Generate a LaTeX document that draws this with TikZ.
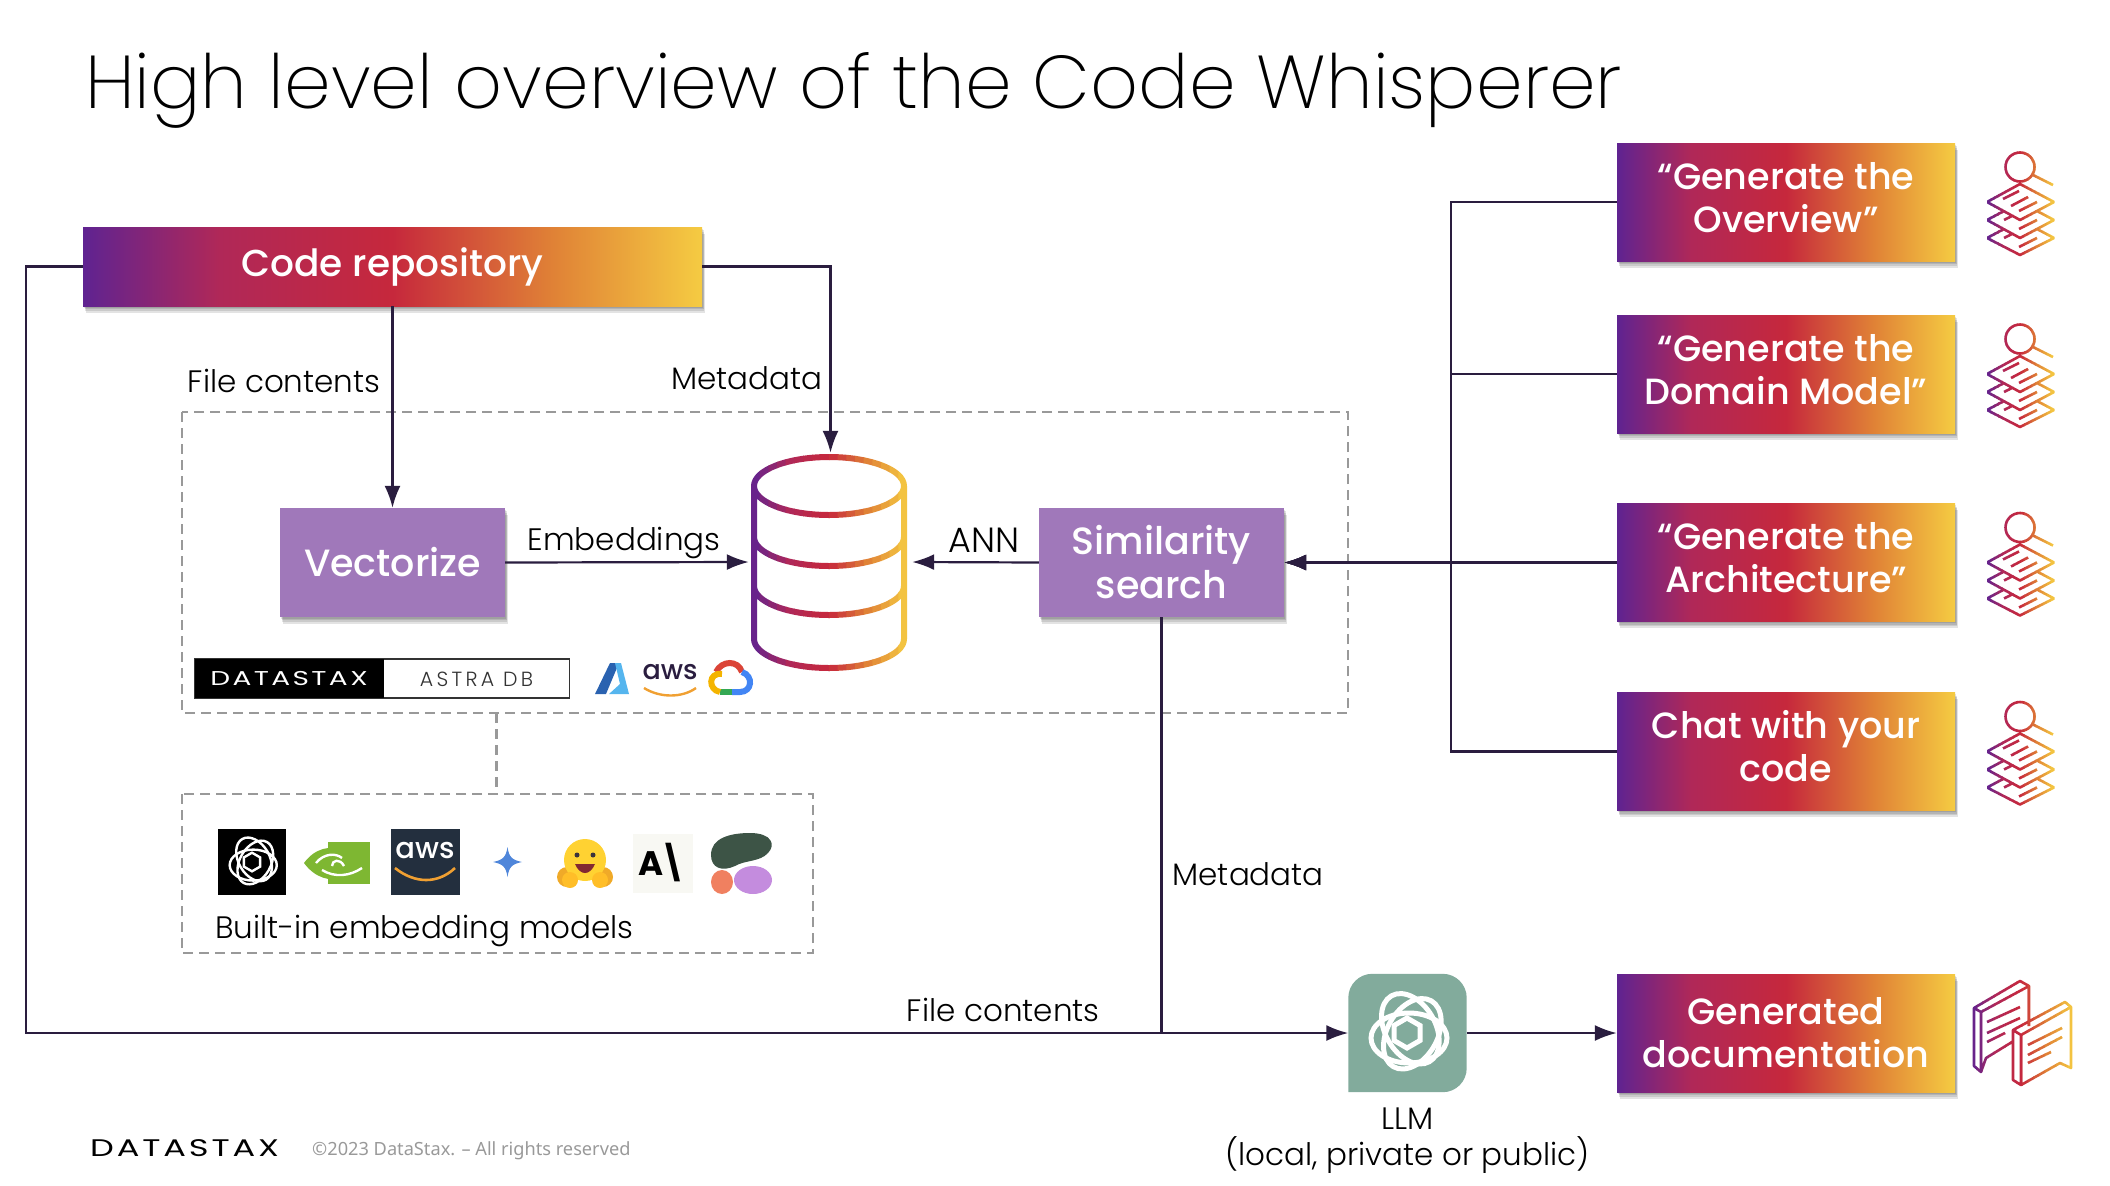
\documentclass[tikz,border=0pt]{standalone}
\usepackage{fontspec}
\usepackage{xcolor}
\usepackage{tikz}
\usetikzlibrary{arrows.meta, positioning, shadows}
\setmainfont{Poppins}
\newfontfamily\lightfont{Poppins Light}
\newfontfamily\thinfont{Poppins ExtraLight}
\newfontfamily\boxfont{Poppins Medium}
\newfontfamily\logofont[FakeStretch=1.4,LetterSpace=12]{Poppins}
\newfontfamily\astrafont[LetterSpace=16]{Poppins Light}
\newfontfamily\footfont{Noto Sans}

\definecolor{gradviolet}{HTML}{5F2391}
\definecolor{gradwine}{HTML}{B02858}
\definecolor{gradred}{HTML}{C6283C}
\definecolor{gradorange}{HTML}{E08236}
\definecolor{gradyellow}{HTML}{F5CB42}
\definecolor{linedark}{HTML}{2A1D3F}
\definecolor{boxviolet}{HTML}{A078BA}
\definecolor{llmgreen}{HTML}{82AB9C}
\definecolor{dashgray}{HTML}{999999}

\pgfdeclarehorizontalshading{brandgrad}{100bp}{color(0bp)=(gradviolet); color(25bp)=(gradviolet);
  color(36bp)=(gradwine); color(50bp)=(gradred); color(63bp)=(gradorange);
  color(75bp)=(gradyellow); color(100bp)=(gradyellow)}

% colour at #1 percent of the brand gradient
\newcommand{\gradcolor}[1]{%
  \ifdim#1pt<25pt \pgfmathsetmacro\gm{4*#1}\colorlet{gradc}{gradwine!\gm!gradviolet}%
  \else\ifdim#1pt<50pt \pgfmathsetmacro\gm{4*(#1-25)}\colorlet{gradc}{gradred!\gm!gradwine}%
  \else\ifdim#1pt<75pt \pgfmathsetmacro\gm{4*(#1-50)}\colorlet{gradc}{gradorange!\gm!gradred}%
  \else \pgfmathsetmacro\gm{4*(#1-75)}\colorlet{gradc}{gradyellow!\gm!gradorange}\fi\fi\fi}

% strokes #4 in vertical slices between x=#1 and x=#2, line width #3
\newcommand{\gradstroke}[4]{%
  \foreach \gi in {0,...,17}{%
    \pgfmathsetmacro\gl{#1+(#2-#1)*\gi/18}
    \pgfmathsetmacro\gr{#1+(#2-#1)*(\gi+1)/18+.6}
    \pgfmathsetmacro\gt{(\gi+.5)/18*100}
    \gradcolor{\gt}
    \begin{scope}
      \clip (\gl,0) rectangle (\gr,1186);
      \draw[gradc,line width=#3,line join=round] #4;
    \end{scope}}}

\newcommand{\knot}[5]{%
  \begin{scope}[shift={(#1,#2)},scale=#3]
    \foreach \a in {0,60,120}
      \draw[#4,line width=#5,rotate=\a] (2,5) ellipse [x radius=38pt,y radius=25pt];
    \draw[#4,line width=#5] (30:15) -- (90:15) -- (150:15) -- (210:15) -- (270:15) -- (330:15) -- cycle;
  \end{scope}}

\newcommand{\searchdocs}[1]{%
  \gradstroke{1987}{2054}{2.6pt}{
    (2020,#1-35) circle [radius=14.5pt]
    (2033,#1-27) -- (2053,#1-17)
    (1987,#1) -- (2020,#1-18) -- (2054,#1) -- (2020,#1+18) -- cycle
    (2004,#1+9) -- (1987,#1+18) -- (2020,#1+36) -- (2054,#1+18) -- (2037,#1+9)
    (2004,#1+27) -- (1987,#1+36) -- (2020,#1+53) -- (2054,#1+36) -- (2037,#1+27)
    (2003,#1-3) -- (2019,#1-11)
    (2011,#1+4) -- (2028,#1-5)
    (2019,#1+9) -- (2037,#1)
    (2004,#1+18) -- (2012,#1+14)
    (2019,#1+27) -- (2037,#1+18)
    (2004,#1+36) -- (2012,#1+32)
    (2019,#1+45) -- (2037,#1+36)}}

% two centred lines, sitting a little above the middle of their box
\newcommand{\twolines}[2]{\raisebox{1.5pt}{\begin{tabular}{@{}c@{}}#1\\#2\end{tabular}}}

\begin{document}
\begin{tikzpicture}[x=1pt, y=-1pt,
    arrow/.style={-{Latex[length=22pt,width=16pt]}, draw=linedark, line width=2.2pt},
    plain/.style={draw=linedark, line width=2.2pt},
    dashbox/.style={draw=dashgray, line width=2.4pt, dash pattern=on 10pt off 6pt},
    label/.style={font=\lightfont\fontsize{31}{36}\selectfont, text=black, inner sep=5pt},
    softshadow/.style={
      general shadow={shadow xshift=1pt, shadow yshift=-1.5pt, opacity=.11, fill=black},
      general shadow={shadow xshift=1.5pt, shadow yshift=-3pt, opacity=.11, fill=black},
      general shadow={shadow xshift=2pt, shadow yshift=-4.5pt, opacity=.11, fill=black},
      general shadow={shadow xshift=2.5pt, shadow yshift=-6.5pt, opacity=.11, fill=black}},
    gradbox/.style={rectangle, softshadow, shading=brandgrad, shading angle=0, text=white, align=center,
      minimum width=338pt, minimum height=118pt, inner sep=0pt,
      font=\boxfont\fontsize{36.5}{43}\selectfont},
    violetbox/.style={rectangle, softshadow, fill=boxviolet, text=white, align=center, inner sep=0pt,
      minimum height=109pt, font=\boxfont\fontsize{38}{44}\selectfont}]
  \useasboundingbox (0,0) rectangle (2110,1186);

  \node [anchor=west, inner sep=0pt, font=\thinfont\fontsize{74.8}{84}\selectfont] (title) at (85,90.5)
    {High level overview of the Code Whisperer};

  % dashed frames
  \draw [dashbox] (182,412) rectangle (1348,713);
  \draw [dashbox] (182,794) rectangle (813,953);
  \draw [dashbox] (496.5,713) -- (496.5,794);

  % boxes
  \node [gradbox, minimum width=619pt, minimum height=79pt, font=\boxfont\fontsize{37.5}{43}\selectfont] (repo) at (392.5,266.5) {Code repository};
  \node [violetbox, minimum width=225pt] (vectorize) at (392.5,562.5) {Vectorize};
  \node [violetbox, minimum width=245pt] (simsearch) at (1161.5,562.5) {Similarity\\search};
  \node [minimum width=163pt, minimum height=218pt, inner sep=0pt] (db) at (830.5,562) {};
  \node [gradbox] (overview) at (1786,202) {\twolines{“Generate the}{Overview”}};
  \node [gradbox] (domainmodel) at (1786,374) {\twolines{“Generate the}{Domain Model”}};
  \node [gradbox] (architecture) at (1786,562.5) {\twolines{“Generate the}{Architecture”}};
  \node [gradbox] (chat) at (1786,751.5) {\twolines{Chat with your}{code}};
  \node [gradbox] (gendocs) at (1786,1033) {Generated\\documentation};
  \node [minimum width=118pt, minimum height=118pt, inner sep=0pt] (llm) at (1407.5,1033) {};
  \node [label, below=15pt of llm, align=center, inner sep=0pt] (llmtext) {LLM\\(local, private or public)};

  \coordinate (leftbend) at (26,1033);
  \coordinate (bus) at (1451,562.5);

  % connectors
  \draw [arrow] (repo.south) -- node[label, left, pos=.37, inner sep=11pt]{File contents} (vectorize.north);
  \draw [arrow] (repo.east) -| node[label, left, pos=.80, inner sep=7pt]{Metadata} (db.north);
  \draw [arrow] (vectorize.east) -- node[label, above, inner sep=2.6pt, xshift=-3pt]{Embeddings} (db.west);
  \draw [arrow] (simsearch.west) -- node[label, above, pos=.43, inner sep=9pt, font=\lightfont\fontsize{35}{36}\selectfont]{ANN} (db.east);
  \draw [arrow] (repo.west) -| (leftbend) -- node[label, above, pos=.739, inner sep=9.7pt]{File contents} (llm.west);
  \draw [plain] (simsearch.south) -- node[label, right, pos=.617, inner sep=10pt]{Metadata} (simsearch.south |- llm.west);
  \draw [arrow] (llm.east) -- (gendocs.west);
  \draw [arrow] (overview.west) -| (bus) -- (simsearch.east);
  \draw [arrow] (domainmodel.west) -| (bus) -- (simsearch.east);
  \draw [arrow] (architecture.west) -- (simsearch.east);
  \draw [arrow] (chat.west) -| (bus) -- (simsearch.east);

  % database
  \gradstroke{751}{907}{6pt}{
    (829,486) ellipse [x radius=75pt, y radius=29pt]
    (754,486) -- (754,639) arc [start angle=180, end angle=360, x radius=75pt, y radius=29pt] -- (904,486)
    (754,537) arc [start angle=180, end angle=360, x radius=75pt, y radius=29pt]
    (754,586) arc [start angle=180, end angle=360, x radius=75pt, y radius=29pt]}

  % astra badge and clouds
  \draw [fill=white, draw=black!80, line width=1.5pt] (194.5,659) rectangle (569.5,698);
  \fill [black] (194.5,659) rectangle (384,698);
  \node [text=white, inner sep=0pt, font=\logofont\fontsize{20}{24}\selectfont] (astralogo) at (289,679) {DATASTAX};
  \node [text=black!80, inner sep=0pt, font=\astrafont\fontsize{20.5}{22}\selectfont] (astraname) at (476.5,679) {ASTRA DB};
  \fill [color={rgb,255:red,42;green,98;blue,176}] (595,694) -- (610,663) -- (619,663) -- (606,694) -- cycle;
  \fill [color={rgb,255:red,85;green,181;blue,238}] (615,663) -- (621,663) -- (629,694) -- (609,694) -- (620,684) -- cycle;
  \node [inner sep=0pt, text=linedark, font=\boxfont\fontsize{27}{27}\selectfont] (awscloud) at (670,672) {aws};
  \draw [color={rgb,255:red,240;green,160;blue,50}, line width=2.4pt] (644,688) .. controls (660,698) and (682,698) .. (696,688);
  \draw [color={rgb,255:red,219;green,68;blue,55}, line width=6pt] (716,672) .. controls (722,660) and (738,660) .. (742,672);
  \draw [color={rgb,255:red,66;green,133;blue,244}, line width=6pt] (742,672) .. controls (754,676) and (752,692) .. (740,692) -- (732,692);
  \draw [color={rgb,255:red,52;green,168;blue,83}, line width=6pt] (732,692) -- (720,692);
  \draw [color={rgb,255:red,244;green,180;blue,0}, line width=6pt] (720,692) .. controls (708,690) and (708,672) .. (722,674);

  % embedding models
  \fill [black] (217.5,829) rectangle (286,895);
  \knot{252}{862}{.62}{white}{2.4pt}
  \fill [color={rgb,255:red,126;green,183;blue,50}] (328,842) rectangle (370,884);
  \fill [color={rgb,255:red,126;green,183;blue,50}] (304,863) .. controls (315,848) and (330,845) .. (345,850) -- (345,878) .. controls (330,882) and (315,878) .. (304,863) -- cycle;
  \draw [white, line width=2.4pt] (316,863) .. controls (324,853) and (336,853) .. (342,858) (332,866) .. controls (332,860) and (340,858) .. (344,866) (322,870) .. controls (335,878) and (350,876) .. (362,868);
  \fill [color={rgb,255:red,35;green,47;blue,62}] (391,829) rectangle (459.5,895);
  \node [inner sep=0pt, text=white, font=\boxfont\fontsize{29}{29}\selectfont] (awsmodel) at (425,850) {aws};
  \draw [color={rgb,255:red,240;green,160;blue,50}, line width=2.6pt] (395,868) .. controls (415,884) and (438,884) .. (455,868);
  \fill [color={rgb,255:red,79;green,134;blue,218}] (507.5,847) .. controls (509,857) and (512,860) .. (522,862) .. controls (512,864) and (509,867) .. (507.5,877) .. controls (506,867) and (503,864) .. (493,862) .. controls (503,860) and (506,857) .. (507.5,847) -- cycle;
  \fill [color={rgb,255:red,240;green,170;blue,40}] (567,877) ellipse [x radius=10pt, y radius=10pt];
  \fill [color={rgb,255:red,240;green,170;blue,40}] (603,877) ellipse [x radius=10pt, y radius=10pt];
  \fill [color={rgb,255:red,255;green,210;blue,50}] (585,860) circle [radius=21pt];
  \fill [color={rgb,255:red,255;green,190;blue,40}] (570,880) circle [radius=8pt] (600,880) circle [radius=8pt];
  \fill [color={rgb,255:red,60;green,50;blue,60}] (577,855) circle [radius=2.5pt] (593,855) circle [radius=2.5pt];
  \fill [color={rgb,255:red,130;green,40;blue,50}] (575,864) .. controls (580,876) and (590,876) .. (595,864) -- cycle;
  \fill [color={rgb,255:red,248;green,248;blue,243}] (633,834) rectangle (693,893);
  \node [inner sep=0pt, font=\bfseries\fontsize{34}{34}\selectfont] (anthropic) at (663,863) {A\kern-4pt\textbackslash};
  \fill [color={rgb,255:red,61;green,84;blue,70}] (711,855) .. controls (711,838) and (730,833) .. (750,833) .. controls (772,833) and (776,845) .. (768,853) .. controls (760,862) and (745,860) .. (735,866) .. controls (722,872) and (711,868) .. (711,855) -- cycle;
  \fill [color={rgb,255:red,240;green,128;blue,96}] (722,882) ellipse [x radius=11pt, y radius=12pt];
  \fill [color={rgb,255:red,196;green,140;blue,222}] (753,880) ellipse [x radius=19pt, y radius=14pt];
  \node [label, anchor=west, inner sep=0pt] (modelstext) at (215,931) {Built-in embedding models};

  % llm tile
  \fill [llmgreen] (llm.south west) -- (llm.west) [rounded corners=24pt] -- (llm.north west) -- (llm.north east) -- (llm.south east) [sharp corners] -- cycle;
  \knot{1407}{1033}{1}{white}{5pt}

  % search icons
  \foreach \iy in {202,374,562.5,751.5}{
    \searchdocs{\iy}
  }

  % generated docs icon
  \gradstroke{1971}{2073}{2.6pt}{
    (1981,1012) -- (1974,1008) -- (2020,981) -- (2029,986) -- (1981,1012) -- (1981,1072) -- (1974,1066) -- (1974,1008)
    (2029,986) -- (2029,1026)
    (1981,1072) -- (1986,1058) -- (2012,1042)
    (1987,1022) -- (2020,1007) (1987,1033) -- (2020,1018) (1987,1042) -- (2005,1033)
    (2013,1030) -- (2065,1002) -- (2071,1007) -- (2071,1068) -- (2060,1063) -- (2021,1085) -- (2013,1080) -- cycle
    (2013,1030) -- (2021,1035) -- (2071,1007) (2021,1035) -- (2021,1085)
    (2028,1045) -- (2062,1028) (2028,1055) -- (2062,1037) (2028,1063) -- (2051,1052)}

  % footer
  \node [anchor=west, inner sep=0pt, font=\logofont\fontsize{24}{26}\selectfont] (footlogo) at (90,1148) {DATASTAX};
  \node [anchor=west, inner sep=0pt, text=dashgray, font=\footfont\fontsize{18.2}{22}\selectfont] (copyright) at (312,1150.5) {©2023 DataStax. – All rights reserved};
\end{tikzpicture}
\end{document}
